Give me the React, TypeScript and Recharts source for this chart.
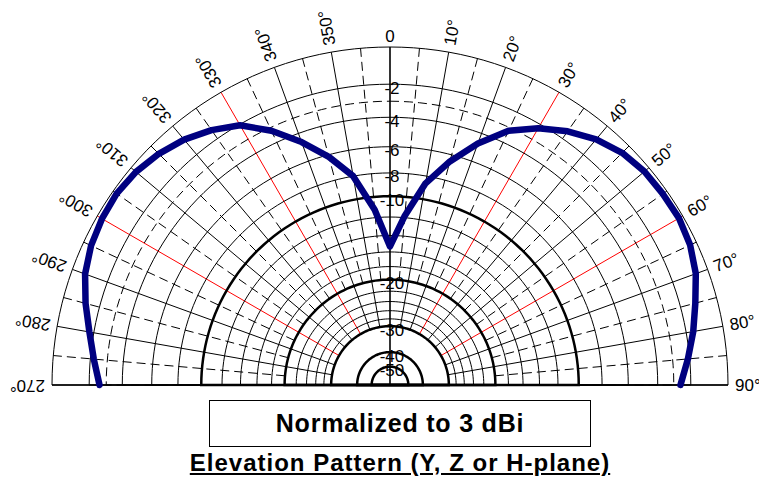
import React from 'react';
import { RadarChart, Radar, PolarGrid, PolarAngleAxis, PolarRadiusAxis } from 'recharts';

// ---------- data ----------
// Elevation pattern, dB relative to peak, read at 5° steps (270° -> 0° -> 90°)
const PATTERN_ANGLES = [
  270, 275, 280, 285, 290, 295, 300, 305, 310, 315, 320, 325, 330, 335, 340, 345, 350, 355,
  0, 5, 10, 15, 20, 25, 30, 35, 40, 45, 50, 55, 60, 65, 70, 75, 80, 85, 90,
];
const PATTERN_DB = [
  -2.6, -2.2, -1.75, -1.2, -0.7, -0.42, -0.28, -0.22, -0.33, -0.57, -0.92, -1.42, -2.05, -3.2, -4.6, -6.15, -8.0, -11.2,
  -15.3, -11.8, -8.6, -6.5, -4.7, -3.2, -2.25, -1.5, -0.9, -0.5, -0.3, -0.25, -0.22, -0.35, -0.65, -1.15, -1.6, -2.1, -2.6,
];

const LABEL_ANGLES = [0, 10, 20, 30, 40, 50, 60, 70, 80, 90, 270, 280, 290, 300, 310, 320, 330, 340, 350];
const LABEL_DB = [-2, -4, -6, -8, -10, -20, -30, -40, -50];
const THIN_RING_DB = [0, -2, -4, -6, -8, -12, -14, -16, -18, -22, -24, -26, -28];
const THICK_RING_DB = [-10, -20, -30, -40, -50];
const DASH_RING_DB = [-3];
const DASHED_SPOKES = [5, 15, 25, 35, 45, 55, 65, 75, 85, 275, 285, 295, 305, 315, 325, 335, 345, 355];
const SOLID_SPOKES = [10, 20, 40, 50, 70, 80, 280, 290, 310, 320, 340, 350];
const RED_SPOKES = [30, 60, 300, 330];
const AXIS_SPOKES = [0, 90, 270];

const BOX_TEXT = 'Normalized to 3 dBi';
const TITLE = 'Elevation Pattern (Y, Z or H-plane)';

// ---------- helpers ----------
// ARRL log-periodic scale: radius factor 0.89 per 2 dB
const toR = (db: number) => Math.pow(0.89, -db / 2);
const toDb = (r: number) => Math.round((-2 * Math.log(r)) / Math.log(0.89));
const range = (a: number, b: number, s: number) => {
  const out: number[] = [];
  for (let v = a; v <= b; v += s) out.push(v);
  return out;
};

const DENSE_ANGLES = [...range(0, 90, 2), ...range(270, 358, 2)];
// The radar polygon always closes; the trace is walked out and back along the same
// points so the closing segment lies on the curve itself (no chord across the baseline).
const forward = PATTERN_ANGLES.map((a, i) => ({ angle: a, r: toR(PATTERN_DB[i]) }));
const chartData = [...forward, ...forward.slice(1, -1).reverse()];

// ---------- layout ----------
const W = 759;
const H = 400;
const CX = 390;
const CY = 385;
const OUTER = 338;
const FONT = '"Liberation Sans", Arial, sans-serif';

const AngleTick = (props: any) => {
  const { x, y, payload } = props;
  const v = payload.value;
  if (v === 0) {
    return (
      <text x={x} y={y + 2} textAnchor="middle" fontSize={17} fontFamily={FONT} fill="#000">
        0
      </text>
    );
  }
  return (
    <text
      x={x}
      y={y}
      transform={`rotate(${v - 90}, ${x}, ${y})`}
      textAnchor="start"
      dominantBaseline="central"
      fontSize={17}
      fontFamily={FONT}
      fill="#000"
    >
      {`${v}°`}
    </text>
  );
};

const RadiusTick = (props: any) => {
  const { x, y, payload } = props;
  return (
    <text
      x={x + 2}
      y={y + 4}
      textAnchor="middle"
      dominantBaseline="central"
      fontSize={17}
      fontFamily={FONT}
      fill="#000"
    >
      {toDb(payload.value)}
    </text>
  );
};

const common = {
  width: W,
  height: H,
  cx: CX,
  cy: CY,
  outerRadius: OUTER,
  startAngle: 90,
  endAngle: -270,
  margin: { top: 0, right: 0, bottom: 0, left: 0 },
  data: chartData,
};

const layer: React.CSSProperties = { position: 'absolute', left: 0, top: 0 };

const hiddenAngle = {
  type: 'number' as const,
  dataKey: 'angle',
  domain: [0, 360] as [number, number],
  tick: false,
  axisLine: false,
  tickLine: false,
};
const hiddenRadius = {
  type: 'number' as const,
  domain: [0, 1] as [number, number],
  tick: false,
  axisLine: false,
  tickLine: false,
};

const RingLayer = ({ rings, width, dash }: { rings: number[]; width: number; dash?: string }) => (
  <div style={layer}>
    <RadarChart {...common} innerRadius={0}>
      <PolarAngleAxis {...hiddenAngle} ticks={DENSE_ANGLES} />
      <PolarRadiusAxis {...hiddenRadius} ticks={rings.map(toR)} />
      <PolarGrid gridType="polygon" radialLines={false} stroke="#000" strokeWidth={width} strokeDasharray={dash} />
      <Radar dataKey="r" stroke="none" fill="none" fillOpacity={0} dot={false} isAnimationActive={false} />
    </RadarChart>
  </div>
);

export default function App() {
  return (
    <div style={{ position: 'absolute', left: 0, top: 0, width: W, height: 481, background: '#fff' }}>
      {/* dashed spokes, from -20 dB ring outward */}
      <div style={layer}>
        <RadarChart {...common} innerRadius={OUTER * toR(-20)}>
          <PolarAngleAxis {...hiddenAngle} ticks={DASHED_SPOKES} />
          <PolarRadiusAxis {...hiddenRadius} />
          <PolarGrid polarRadius={[]} radialLines stroke="#000" strokeWidth={1} strokeDasharray="9 5" />
        </RadarChart>
      </div>
      {/* solid and red spokes, from -30 dB ring outward */}
      <div style={layer}>
        <RadarChart {...common} innerRadius={OUTER * toR(-30)}>
          <PolarAngleAxis {...hiddenAngle} ticks={SOLID_SPOKES} />
          <PolarAngleAxis {...hiddenAngle} angleAxisId="red" ticks={RED_SPOKES} />
          <PolarRadiusAxis {...hiddenRadius} />
          <PolarGrid polarRadius={[]} radialLines stroke="#000" strokeWidth={1} />
          <PolarGrid angleAxisId="red" polarRadius={[]} radialLines stroke="#ff0000" strokeWidth={1} />
        </RadarChart>
      </div>
      <RingLayer rings={THIN_RING_DB} width={1} />
      <RingLayer rings={DASH_RING_DB} width={1} dash="9 5" />
      <RingLayer rings={THICK_RING_DB} width={2.5} />
      {/* axes, pattern, labels */}
      <div style={layer}>
        <RadarChart {...common} innerRadius={0}>
          <PolarAngleAxis {...hiddenAngle} angleAxisId="axes" ticks={AXIS_SPOKES} />
          <PolarGrid angleAxisId="axes" polarRadius={[]} radialLines stroke="#000" strokeWidth={1.6} />
          <Radar
            dataKey="r"
            stroke="#000080"
            strokeWidth={6.5}
            fill="none"
            fillOpacity={0}
            dot={false}
            strokeLinejoin="round"
            strokeLinecap="round"
            isAnimationActive={false}
          />
          <PolarAngleAxis
            type="number"
            dataKey="angle"
            domain={[0, 360]}
            ticks={LABEL_ANGLES}
            tick={<AngleTick />}
            tickSize={7}
            axisLine={false}
            tickLine={false}
          />
          <PolarRadiusAxis
            type="number"
            domain={[0, 1]}
            angle={90}
            ticks={LABEL_DB.map(toR)}
            tick={<RadiusTick />}
            axisLine={false}
            tickLine={false}
          />
        </RadarChart>
      </div>
      <div
        style={{
          position: 'absolute',
          left: 209,
          top: 400,
          width: 380,
          height: 45,
          border: '1px solid #000',
          display: 'flex',
          alignItems: 'center',
          justifyContent: 'center',
          fontFamily: FONT,
          fontWeight: 'bold',
          fontSize: 25,
          letterSpacing: 0.8,
          color: '#000',
        }}
      >
        {BOX_TEXT}
      </div>
      <div
        style={{
          position: 'absolute',
          left: 0,
          width: 800,
          top: 449,
          textAlign: 'center',
          fontFamily: FONT,
          fontWeight: 'bold',
          fontSize: 24,
          letterSpacing: 1,
          textDecoration: 'underline',
          color: '#000',
          lineHeight: '27px',
        }}
      >
        {TITLE}
      </div>
    </div>
  );
}
